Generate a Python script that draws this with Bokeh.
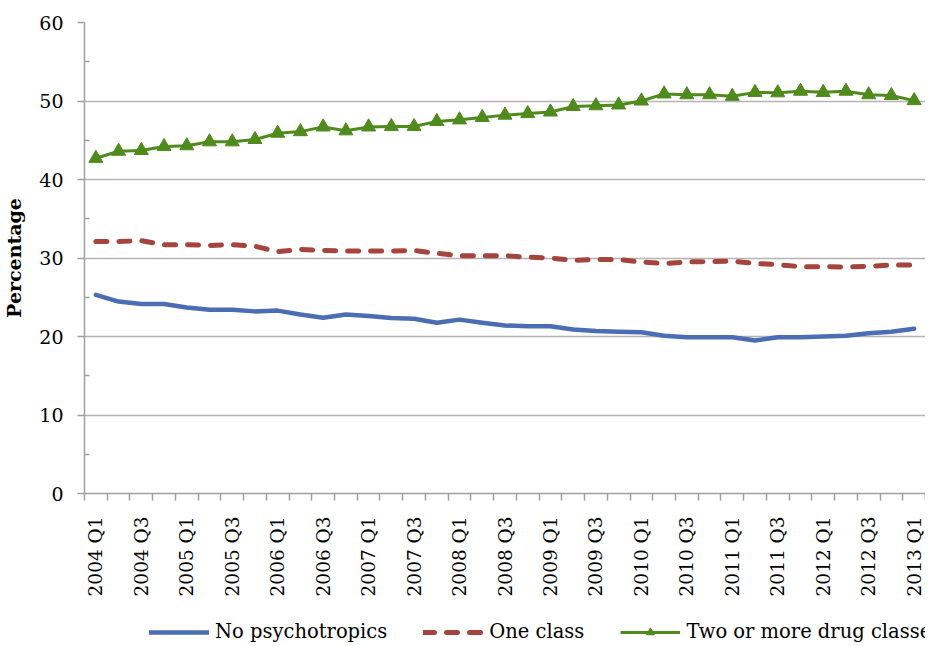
import math
from bokeh.plotting import figure
from bokeh.layouts import column
from bokeh.models import FixedTicker, Legend, LegendItem, Range1d
from bokeh.embed import file_html
from bokeh.resources import INLINE

quarters = [
    "2004 Q1", "2004 Q2", "2004 Q3", "2004 Q4",
    "2005 Q1", "2005 Q2", "2005 Q3", "2005 Q4",
    "2006 Q1", "2006 Q2", "2006 Q3", "2006 Q4",
    "2007 Q1", "2007 Q2", "2007 Q3", "2007 Q4",
    "2008 Q1", "2008 Q2", "2008 Q3", "2008 Q4",
    "2009 Q1", "2009 Q2", "2009 Q3", "2009 Q4",
    "2010 Q1", "2010 Q2", "2010 Q3", "2010 Q4",
    "2011 Q1", "2011 Q2", "2011 Q3", "2011 Q4",
    "2012 Q1", "2012 Q2", "2012 Q3", "2012 Q4",
    "2013 Q1",
]

no_psychotropics = [25.3, 24.45, 24.15, 24.15, 23.7, 23.4, 23.4, 23.2, 23.3, 22.8,
                    22.4, 22.8, 22.6, 22.35, 22.25, 21.75, 22.15, 21.75, 21.4, 21.3,
                    21.3, 20.9, 20.7, 20.6, 20.55, 20.1, 19.9, 19.9, 19.9, 19.5,
                    19.9, 19.9, 20.0, 20.1, 20.4, 20.6, 21.0]

one_class = [32.1, 32.1, 32.2, 31.7, 31.7, 31.6, 31.7, 31.5, 30.8, 31.1,
             30.95, 30.9, 30.9, 30.9, 30.95, 30.6, 30.3, 30.3, 30.3, 30.1,
             30.0, 29.7, 29.8, 29.8, 29.5, 29.3, 29.5, 29.55, 29.6, 29.3,
             29.15, 28.9, 28.9, 28.85, 28.95, 29.1, 29.1]

two_or_more = [42.7, 43.6, 43.7, 44.2, 44.3, 44.8, 44.8, 45.1, 45.9, 46.1,
               46.7, 46.2, 46.7, 46.75, 46.75, 47.4, 47.6, 47.9, 48.2, 48.4,
               48.6, 49.3, 49.4, 49.5, 50.0, 50.9, 50.8, 50.8, 50.6, 51.1,
               51.05, 51.25, 51.1, 51.25, 50.8, 50.7, 50.05]

y_ticks = [0, 10, 20, 30, 40, 50, 60]
y_minor = [5, 15, 25, 35, 45, 55]

series_names = ["No psychotropics", "One class", "Two or more drug classes"]

FONT = "DejaVu Serif"
GRID = "#b4b4b4"
AXIS = "#a0a0a0"
C_BLUE = "#4a6db3"
C_RED = "#a5433d"
C_GREEN = "#4f8a1c"

x = list(range(len(quarters)))

p = figure(
    width=925, height=605,
    x_range=Range1d(-0.5, len(quarters) - 0.5), y_range=Range1d(0, 60),
    output_backend="svg", toolbar_location=None,
    min_border_left=80, min_border_top=22, min_border_right=0, min_border_bottom=112,
)
p.outline_line_color = None
p.background_fill_color = "white"

# y axis
yax = p.yaxis[0]
yax.ticker = FixedTicker(ticks=y_ticks, minor_ticks=y_minor)
yax.axis_label = "Percentage"
yax.axis_label_text_font = FONT
yax.axis_label_text_font_style = "bold"
yax.axis_label_text_font_size = "19px"
yax.axis_label_text_color = "black"
yax.axis_label_standoff = 11
yax.major_label_text_font = FONT
yax.major_label_text_font_size = "19px"
yax.major_label_text_color = "black"
yax.major_label_standoff = 14
yax.major_tick_out = 7
yax.major_tick_in = 0
yax.minor_tick_in = 5
yax.minor_tick_out = 0
yax.axis_line_color = AXIS
yax.axis_line_width = 1.5
yax.major_tick_line_color = AXIS
yax.major_tick_line_width = 1.5
yax.minor_tick_line_color = AXIS
yax.minor_tick_line_width = 1.5

# x axis
xax = p.xaxis[0]
label_idx = list(range(0, len(quarters), 2))
xax.ticker = FixedTicker(ticks=label_idx, minor_ticks=[i - 0.5 for i in range(len(quarters) + 1)])
xax.major_label_overrides = {i: quarters[i] for i in label_idx}
xax.major_label_orientation = math.pi / 2
xax.major_label_text_font = FONT
xax.major_label_text_font_size = "18.5px"
xax.major_label_text_color = "black"
xax.major_label_standoff = 16
xax.major_tick_out = 0
xax.major_tick_in = 0
xax.minor_tick_out = 7
xax.minor_tick_in = 0
xax.axis_line_color = AXIS
xax.axis_line_width = 1.5
xax.minor_tick_line_color = AXIS
xax.minor_tick_line_width = 1.5

p.xgrid.visible = False
p.ygrid.ticker = FixedTicker(ticks=y_ticks[1:])
p.ygrid.grid_line_color = GRID
p.ygrid.grid_line_width = 1.5

p.line(x, no_psychotropics, line_color=C_BLUE, line_width=4.5, line_cap="round", line_join="round")
p.line(x, one_class, line_color=C_RED, line_width=5, line_dash="11 12", line_cap="round", line_join="round")
p.line(x, two_or_more, line_color=C_GREEN, line_width=3)
p.scatter(x, two_or_more, marker="triangle", size=14, fill_color=C_GREEN, line_color=C_GREEN)

# legend strip below the chart (series drawn out of view only to feed the legend glyphs)
lf = figure(
    width=925, height=40, x_range=Range1d(0, 1), y_range=Range1d(0, 1),
    x_axis_type=None, y_axis_type=None,
    output_backend="svg", toolbar_location=None,
    min_border_left=0, min_border_right=0, min_border_top=0, min_border_bottom=0,
)
lf.grid.visible = False
lf.outline_line_color = None
l1 = lf.line(x, no_psychotropics, line_color=C_BLUE, line_width=4.5, line_cap="round")
l2 = lf.line(x, one_class, line_color=C_RED, line_width=5, line_dash="11 12", line_cap="round")
l3 = lf.line(x, two_or_more, line_color=C_GREEN, line_width=3)
l3m = lf.scatter(x, two_or_more, marker="triangle", size=14, fill_color=C_GREEN, line_color=C_GREEN)

legend = Legend(
    items=[
        LegendItem(label=series_names[0], renderers=[l1]),
        LegendItem(label=series_names[1], renderers=[l2]),
        LegendItem(label=series_names[2], renderers=[l3, l3m]),
    ],
    orientation="horizontal",
    location=(63, 0),
    glyph_width=60, glyph_height=20, label_standoff=6, spacing=36,
    label_text_font=FONT, label_text_font_size="19.5px", label_text_color="black",
    border_line_alpha=0, background_fill_alpha=0, padding=2, margin=0,
)
lf.add_layout(legend, "center")

open("out.html", "w").write(file_html(column(p, lf), INLINE))
